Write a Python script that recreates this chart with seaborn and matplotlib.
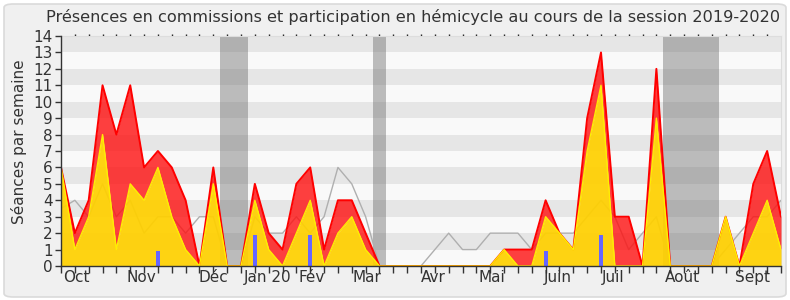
import matplotlib
matplotlib.use("Agg")
import matplotlib.pyplot as plt
from matplotlib.patches import FancyBboxPatch
import seaborn as sns
import pandas as pd

# ---- data (weekly values, session 2019-2020) ----
weeks = list(range(53))
total_presences = [6, 2, 4, 11, 8, 11, 6, 7, 6, 4,
                   0, 6, 0, 0, 5, 2, 1, 5, 6, 1,
                   4, 4, 2, 0, 0, 0, 0, 0, 0, 0,
                   0, 0, 1, 1, 1, 4, 2, 1, 9, 13,
                   3, 3, 0, 12, 0, 0, 0, 0, 3, 0,
                   5, 7, 3]
hemicycle = [6, 1, 3, 8, 1, 5, 4, 6, 3, 1,
             0, 5, 0, 0, 4, 1, 0, 2, 4, 0,
             2, 3, 1, 0, 0, 0, 0, 0, 0, 0,
             0, 0, 1, 0, 0, 3, 2, 1, 7, 11,
             0, 0, 0, 9, 0, 0, 0, 0, 3, 0,
             2, 4, 1]
median_line = [3.5, 4, 3, 5, 3, 4, 2, 3, 3, 2,
               3, 3, 0, 0, 3, 2, 2, 3, 2, 3,
               6, 5, 3, 0, 0, 0, 0, 1, 2, 1,
               1, 2, 2, 2, 1, 2, 2, 2, 3, 4,
               3, 1, 2, 3, 0, 0, 0, 0, 1, 2,
               3, 3, 4]
question_weeks = [7, 14, 18, 35, 39]
question_values = [0.9, 1.9, 1.9, 0.9, 1.9]
vacation_starts = [11.5, 22.5, 43.5]
vacation_ends = [13.5, 23.5, 47.5]
month_labels = ["Oct", "Nov", "Déc", "Jan 20", "Fév", "Mar", "Avr", "Mai",
                "Juin", "Juil", "Août", "Sept"]
month_positions = [1.13, 5.83, 10.97, 14.91, 18.10, 22.13, 26.92, 31.10,
                   35.85, 39.91, 44.91, 49.93]
title = "Présences en commissions et participation en hémicycle au cours de la session 2019-2020"

df = pd.DataFrame({"week": weeks, "total": total_presences,
                   "hemi": hemicycle, "median": median_line})

sns.set_style("white")
plt.rcParams["font.family"] = ["DejaVu Sans"]

fig = plt.figure(figsize=(7.9, 3.0), dpi=100)
fig.patch.set_facecolor("white")
bg = FancyBboxPatch((4 / 790, 3 / 300), 782 / 790, 293 / 300,
                    boxstyle="round,pad=0,rounding_size=0.012",
                    transform=fig.transFigure, facecolor="#F0F0F0",
                    edgecolor="#DADADA", linewidth=1.2, zorder=-10)
fig.patches.append(bg)

ax = fig.add_axes([61 / 790, 1 - 266 / 300, 720 / 790, 230 / 300])
ax.set_zorder(5)
ax.set_facecolor("#F9F9F9")
ax.set_xlim(0, 52)
ax.set_ylim(0, 14)

# horizontal stripes
for k in range(1, 14, 2):
    ax.axhspan(k, k + 1, color="#E6E6E6", lw=0, zorder=0)

# vacation bands
for s, e in zip(vacation_starts, vacation_ends):
    ax.axvspan(s, e, color="#666666", alpha=0.42, lw=0, zorder=1)

# median grey line
sns.lineplot(data=df, x="week", y="median", ax=ax, color="#AFAFAF",
             linewidth=1.0, zorder=2)

# red area (commissions) and yellow area (hémicycle)
ax.fill_between(df["week"], df["hemi"], df["total"], color="#FF1010",
                alpha=0.8, lw=0, zorder=3)
ax.plot(df["week"], df["total"], color="#FF0000", lw=1.4, zorder=4)
ax.fill_between(df["week"], 0, df["hemi"], color="#FFD000",
                alpha=0.93, lw=0, zorder=5)
ax.plot(df["week"], df["hemi"], color="#FFEE00", lw=1.0, zorder=6)

# questions (blue bars)
ax.bar(question_weeks, question_values, width=0.3, color="#6666FF",
       lw=0, zorder=7)

# axes styling
for side in ["left", "bottom"]:
    ax.spines[side].set_color("#333333")
    ax.spines[side].set_linewidth(1.0)
for side in ["top", "right"]:
    ax.spines[side].set_color("#DDDDDD")
    ax.spines[side].set_linewidth(0.8)
ax.spines["left"].set_zorder(10)
ax.spines["bottom"].set_zorder(10)

ax.set_yticks(range(0, 15))
ax.set_yticklabels([str(v) for v in range(0, 15)])
ax.tick_params(axis="y", which="major", direction="out", length=4,
               width=1, color="#333333", labelsize=11, labelcolor="#333333",
               pad=2, left=True)

ax.set_xticks(month_positions)
ax.set_xticklabels(month_labels)
ax.set_xticks(weeks, minor=True)
ax.tick_params(axis="x", which="major", length=0, labelsize=11,
               labelcolor="#333333", pad=3)
ax.tick_params(axis="x", which="minor", direction="out", length=5,
               width=1, color="#333333", bottom=True, top=False)

# small dotted ticks on top
top = ax.secondary_xaxis("top")
top.set_xticks(weeks[1:-1])
top.set_xticklabels([])
top.tick_params(direction="out", length=1.5, width=1, color="#222222")
top.spines["top"].set_visible(False)

ax.set_xlabel("")
ax.set_ylabel("Séances par semaine", fontsize=11, color="#333333")
ax.yaxis.set_label_coords(-0.047, 0.54)

fig.text(413.5 / 790, 1 - 17 / 300, title, ha="center", va="center",
         fontsize=11.6, color="#333333")

fig.savefig("out.png", dpi=100, facecolor=fig.get_facecolor())
